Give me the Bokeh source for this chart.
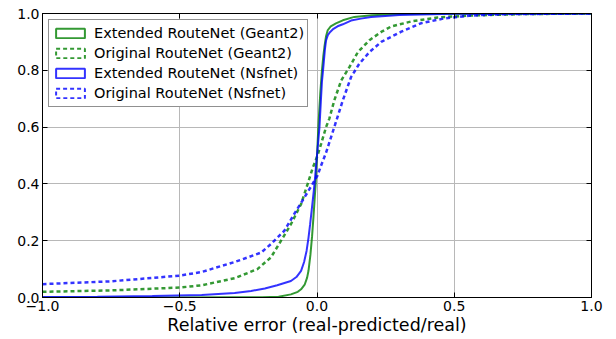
import math
from bokeh.plotting import figure
from bokeh.models import Range1d, FixedTicker, LinearAxis, Legend, LegendItem
from bokeh.embed import file_html
from bokeh.resources import INLINE

# Extended RouteNet (Geant2) - CDF of relative error
ext_geant_x = [-1.0, -0.6, -0.3, -0.2, -0.14, -0.095, -0.07, -0.058, -0.045, -0.036, -0.031, -0.024,
               -0.018, -0.013, -0.009, -0.005, 0.0, 0.006, 0.012, 0.018, 0.023, 0.027, 0.033, 0.039,
               0.050, 0.069, 0.094, 0.136, 0.2, 0.3, 0.5, 1.0]
ext_geant_y = [0.0, 0.0, 0.0005, 0.001, 0.003, 0.011, 0.020, 0.029, 0.045, 0.070, 0.094, 0.150,
               0.215, 0.282, 0.34, 0.40, 0.50, 0.62, 0.72, 0.80, 0.85, 0.882, 0.92, 0.941,
               0.955, 0.965, 0.976, 0.988, 0.994, 0.998, 0.999, 1.0]

# Original RouteNet (Geant2)
orig_geant_x = [-1.0, -0.75, -0.5, -0.42, -0.30, -0.217, -0.168, -0.131, -0.095, -0.058, -0.034, -0.016,
                0.002, 0.015, 0.033, 0.045, 0.063, 0.088, 0.118, 0.149, 0.191, 0.234, 0.27, 0.343,
                0.44, 0.56, 0.75, 1.0]
orig_geant_y = [0.020, 0.025, 0.035, 0.043, 0.068, 0.100, 0.141, 0.200, 0.258, 0.329, 0.400, 0.455,
                0.50, 0.541, 0.600, 0.630, 0.694, 0.764, 0.811, 0.864, 0.906, 0.935, 0.954, 0.972,
                0.986, 0.993, 0.998, 1.0]

# Extended RouteNet (Nsfnet)
ext_nsf_x = [-1.0, -0.8, -0.6, -0.42, -0.3, -0.24, -0.19, -0.145, -0.095, -0.075, -0.058, -0.047,
             -0.038, -0.031, -0.025, -0.019, -0.013, -0.008, -0.004, 0.0, 0.005, 0.009, 0.014, 0.018,
             0.022, 0.029, 0.033, 0.040, 0.048, 0.060, 0.075, 0.094, 0.124, 0.16, 0.197, 0.3, 0.5, 1.0]
ext_nsf_y = [0.002, 0.003, 0.005, 0.009, 0.016, 0.023, 0.032, 0.043, 0.058, 0.072, 0.094, 0.125,
             0.164, 0.21, 0.258, 0.31, 0.364, 0.41, 0.458, 0.50, 0.555, 0.60, 0.69, 0.76,
             0.80, 0.875, 0.905, 0.925, 0.935, 0.946, 0.955, 0.962, 0.975, 0.982, 0.988, 0.995, 0.999, 1.0]

# Original RouteNet (Nsfnet)
orig_nsf_x = [-1.0, -0.75, -0.5, -0.42, -0.30, -0.204, -0.168, -0.119, -0.083, -0.046, -0.016, 0.002,
              0.015, 0.033, 0.063, 0.094, 0.124, 0.154, 0.191, 0.234, 0.307, 0.38, 0.465, 0.562, 0.7, 1.0]
orig_nsf_y = [0.047, 0.057, 0.077, 0.090, 0.125, 0.158, 0.188, 0.235, 0.294, 0.352, 0.400, 0.430,
              0.465, 0.510, 0.600, 0.694, 0.776, 0.823, 0.864, 0.900, 0.936, 0.966, 0.983, 0.993, 0.998, 1.0]

series_labels = ["Extended RouteNet (Geant2)", "Original RouteNet (Geant2)",
                 "Extended RouteNet (Nsfnet)", "Original RouteNet (Nsfnet)"]
x_ticks = [-1.0, -0.5, 0.0, 0.5, 1.0]
x_tick_labels = ["\u22121.0", "\u22120.5", "0.0", "0.5", "1.0"]
y_ticks = [0.0, 0.2, 0.4, 0.6, 0.8, 1.0]
y_tick_labels = ["0.0", "0.2", "0.4", "0.6", "0.8", "1.0"]
x_label = "Relative error (real-predicted/real)"

GREEN = "#008000"
BLUE = "#0000ff"
FONT = "DejaVu Sans"

p = figure(width=609, height=339, output_backend="svg", toolbar_location=None,
           x_range=Range1d(-1, 1), y_range=Range1d(0, 1),
           min_border_left=42, min_border_right=18, min_border_top=13, min_border_bottom=42)
p.background_fill_color = "white"
p.outline_line_color = "black"
p.outline_line_width = 1

for ax, ticks, labels in ((p.xaxis[0], x_ticks, x_tick_labels), (p.yaxis[0], y_ticks, y_tick_labels)):
    ax.ticker = FixedTicker(ticks=ticks)
    ax.major_label_overrides = {t: l for t, l in zip(ticks, labels)}
    ax.major_tick_in = 5
    ax.major_tick_out = 0
    ax.minor_tick_line_color = None
    ax.major_label_text_font = FONT
    ax.major_label_text_font_size = "14px"
    ax.major_label_text_color = "black"
    ax.axis_line_color = "black"
    ax.major_tick_line_color = "black"
    ax.major_label_standoff = 3

p.xaxis[0].axis_label = x_label
p.xaxis[0].axis_label_text_font = FONT
p.xaxis[0].axis_label_text_font_size = "17.5px"
p.xaxis[0].axis_label_text_font_style = "normal"
p.xaxis[0].axis_label_text_color = "black"
p.xaxis[0].axis_label_standoff = 1

# mirrored inner ticks on right and top (no labels)
for loc, ticks in (("right", y_ticks), ("above", x_ticks)):
    a = LinearAxis(ticker=FixedTicker(ticks=ticks), major_tick_in=5, major_tick_out=0,
                   minor_tick_line_color=None, major_label_overrides={t: "" for t in ticks},
                   major_label_text_font_size="1px",
                   major_label_standoff=0, axis_line_color="black", major_tick_line_color="black")
    p.add_layout(a, loc)

p.xgrid.ticker = FixedTicker(ticks=x_ticks)
p.ygrid.ticker = FixedTicker(ticks=y_ticks)
for g in (p.xgrid[0], p.ygrid[0]):
    g.grid_line_color = "#b8b8b8"
    g.grid_line_width = 1

r1 = p.line(ext_geant_x, ext_geant_y, line_color=GREEN, line_width=2, line_alpha=0.8)
r2 = p.line(orig_geant_x, orig_geant_y, line_color=GREEN, line_width=2.5, line_alpha=0.8, line_dash="4 3")
r3 = p.line(ext_nsf_x, ext_nsf_y, line_color=BLUE, line_width=2, line_alpha=0.8)
r4 = p.line(orig_nsf_x, orig_nsf_y, line_color=BLUE, line_width=2.5, line_alpha=0.8, line_dash="4 3")

# legend proxies drawn as outlined patches
nan = [math.nan]
proxies = []
for color, dash in ((GREEN, "solid"), (GREEN, "4 3"), (BLUE, "solid"), (BLUE, "4 3")):
    proxies.append(p.rect(x=nan, y=nan, width=0.1, height=0.1, fill_color=None,
                          line_color=color, line_width=2, line_alpha=0.8, line_dash=dash))

legend = Legend(items=[LegendItem(label=l, renderers=[r]) for l, r in zip(series_labels, proxies)],
                location="top_left", margin=6, padding=3, spacing=0,
                glyph_width=36, glyph_height=12, label_height=20, label_standoff=6,
                label_text_font=FONT, label_text_font_size="14.5px", label_text_color="black",
                border_line_color="#222222", border_line_width=1,
                background_fill_color="white", background_fill_alpha=1.0)
p.add_layout(legend, "center")

open("out.html", "w").write(file_html(p, INLINE))
